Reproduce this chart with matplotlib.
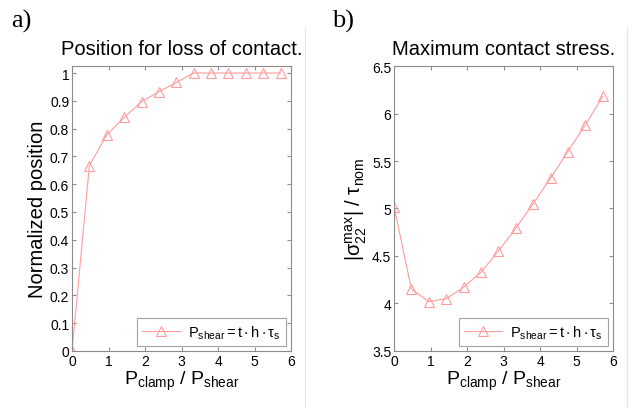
import matplotlib
matplotlib.use("Agg")
import matplotlib.pyplot as plt
from matplotlib.ticker import FormatStrFormatter
from matplotlib.lines import Line2D

plt.rcParams['font.family'] = ['Liberation Sans', 'DejaVu Sans']
plt.rcParams['mathtext.fontset'] = 'custom'
plt.rcParams['mathtext.rm'] = 'Liberation Sans'
plt.rcParams['mathtext.it'] = 'Liberation Sans'
plt.rcParams['mathtext.default'] = 'regular'

# data
ratio = [0, 0.476, 0.952, 1.43, 1.905, 2.38, 2.857, 3.33, 3.81, 4.286, 4.76, 5.24, 5.714]
position = [0, 0.667, 0.778, 0.84, 0.897, 0.933, 0.966, 1, 1, 1, 1, 1, 1]
stress = [5.02, 4.15, 4.02, 4.05, 4.17, 4.33, 4.55, 4.79, 5.05, 5.32, 5.60, 5.88, 6.18]

red = '#ff9c9c'
grey = '#8c8c8c'
xlab = r'$P_{clamp}\ /\ P_{shear}$'
leglab = r'$P_{shear} = t \cdot h \cdot \tau_s$'

fig = plt.figure(figsize=(6.34, 4.14), dpi=100)
ax1 = fig.add_axes([0.1136, 0.150, 0.3455, 0.688])
ax2 = fig.add_axes([0.6215, 0.150, 0.3455, 0.688])


def style(ax):
    for s in ax.spines.values():
        s.set_color(grey)
        s.set_linewidth(0.8)
    ax.tick_params(direction='in', top=True, right=True, color=grey,
                   labelsize=10, length=3, pad=2)
    ax.xaxis.set_major_formatter(FormatStrFormatter('%g'))
    ax.yaxis.set_major_formatter(FormatStrFormatter('%g'))
    ax.set_xlim(0, 6)
    ax.set_xticks(range(7))
    ax.set_xlabel(xlab, fontsize=14, labelpad=1)


ax1.plot(ratio, position, color=red, lw=0.8, marker='^', ms=7.5, mfc='none',
         mec=red, mew=0.8, label=leglab)
style(ax1)
ax1.set_ylim(0, 1.025)
ax1.set_yticks([i / 10 for i in range(11)])
ax1.set_ylabel('Normalized position', fontsize=14.5, labelpad=2)
ax1.set_title('Position for loss of contact.', fontsize=14.5, pad=9)

ax2.plot(ratio, stress, color=red, lw=0.8, marker='^', ms=7.5, mfc='none',
         mec=red, mew=0.8, label=leglab)
style(ax2)
ax2.set_ylim(3.5, 6.5)
ax2.set_yticks([3.5, 4, 4.5, 5, 5.5, 6, 6.5])
ax2.set_ylabel(r'$|\sigma_{22}^{max}|\ /\ \tau_{nom}$', fontsize=14.5, labelpad=2)
ax2.set_title('Maximum contact stress.', fontsize=14.5, pad=9)

for ax in (ax1, ax2):
    leg = ax.legend(loc='lower right', fontsize=10.5, fancybox=False,
                    borderpad=0.35, handlelength=2.6, borderaxespad=0.35,
                    handletextpad=0.6)
    leg.get_frame().set_edgecolor(grey)
    leg.get_frame().set_linewidth(0.8)

fig.text(0.018, 0.975, 'a)', family='Liberation Serif', fontsize=19, va='top')
fig.text(0.523, 0.975, 'b)', family='Liberation Serif', fontsize=19, va='top')

# faint panel borders
fig.add_artist(Line2D([0.481, 0.481], [0.015, 0.93], color='#e4e4e4', lw=0.8))
fig.add_artist(Line2D([0.989, 0.989], [0.015, 0.93], color='#e4e4e4', lw=0.8))

fig.savefig('out.png', dpi=100)
